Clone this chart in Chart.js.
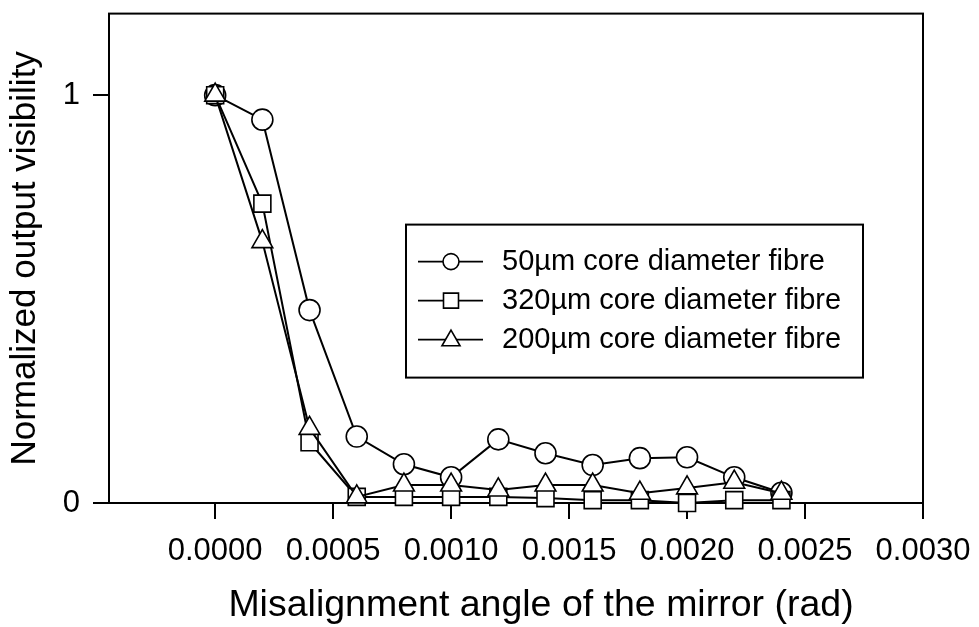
<!DOCTYPE html>
<html>
<head>
<meta charset="utf-8">
<script src="https://cdn.jsdelivr.net/npm/chart.js@4.4.0/dist/chart.umd.min.js"></script>
<style>
  html, body { margin: 0; padding: 0; background: #fff; }
  #wrap { width: 979px; height: 627px; }
</style>
</head>
<body>
<div id="wrap"><canvas id="visibility" width="979" height="627"></canvas></div>
<script>
// misalignment angle (rad)
const angles = [0, 0.0002, 0.0004, 0.0006, 0.0008, 0.0010, 0.0012, 0.0014, 0.0016, 0.0018, 0.0020, 0.0022, 0.0024];
// normalized visibility per fibre
const core50 = [1.0, 0.94, 0.473, 0.163, 0.095, 0.063, 0.156, 0.122, 0.093, 0.110, 0.112, 0.063, 0.025];
const core320 = [1.0, 0.734, 0.149, 0.015, 0.015, 0.015, 0.015, 0.012, 0.007, 0.007, 0.0, 0.007, 0.007];
const core200 = [1.0, 0.641, 0.183, 0.015, 0.044, 0.044, 0.032, 0.044, 0.044, 0.024, 0.037, 0.051, 0.024];
const seriesLabels = ["50µm core diameter fibre", "320µm core diameter fibre", "200µm core diameter fibre"];
const xTicks = [0, 0.0005, 0.0010, 0.0015, 0.0020, 0.0025, 0.0030];
const yTicks = [0, 1];
const xTitle = "Misalignment angle of the mirror (rad)";
const yTitle = "Normalized output visibility";

const FONT = "'Liberation Sans', Arial, Helvetica, sans-serif";

const toPoints = (vals) => angles.map((a, i) => ({ x: a, y: vals[i] }));

const makeSet = (label, vals, style, radius, order) => ({
  label: label,
  data: toPoints(vals),
  borderColor: "#000",
  borderWidth: 2,
  pointStyle: style,
  pointRadius: radius,
  pointBackgroundColor: "#fff",
  pointBorderColor: "#000",
  pointBorderWidth: 1.6,
  tension: 0,
  fill: false,
  clip: false,
  order: order,
});

// small legend marker, same shapes as chart points
function drawMarker(ctx, style, x, y, r) {
  ctx.beginPath();
  if (style === "circle") {
    ctx.arc(x, y, r, 0, Math.PI * 2);
  } else if (style === "rect") {
    ctx.rect(x - r, y - r, 2 * r, 2 * r);
  } else {
    ctx.moveTo(x, y - r);
    ctx.lineTo(x + r * 0.95, y + r * 0.65);
    ctx.lineTo(x - r * 0.95, y + r * 0.65);
    ctx.closePath();
  }
  ctx.fill();
  ctx.stroke();
}

const frame = {
  id: "frame",
  beforeDatasetsDraw(chart) {
    const { ctx, chartArea } = chart;
    ctx.save();
    ctx.strokeStyle = "#000";
    ctx.lineWidth = 2;
    ctx.strokeRect(chartArea.left, chartArea.top, chartArea.right - chartArea.left, chartArea.bottom - chartArea.top);
    ctx.restore();
  },
  // x title sits a bit right of the plot centre in the original
  afterDraw(chart) {
    const { ctx, chartArea } = chart;
    ctx.save();
    ctx.fillStyle = "#000";
    ctx.font = "37.5px " + FONT;
    ctx.textAlign = "center";
    ctx.textBaseline = "middle";
    ctx.fillText(xTitle, (chartArea.left + chartArea.right) / 2 + 25, chartArea.bottom + 103);
    ctx.restore();
  },
};

const boxLegend = {
  id: "boxLegend",
  afterDatasetsDraw(chart) {
    const { ctx, chartArea } = chart;
    const left = chartArea.left + 297;
    const top = chartArea.top + 211;
    const sizes = { circle: 8, rect: 7.5, triangle: 9.5 };
    ctx.save();
    ctx.fillStyle = "#fff";
    ctx.fillRect(left, top, 457, 153);
    ctx.strokeStyle = "#000";
    ctx.lineWidth = 2;
    ctx.strokeRect(left, top, 457, 153);
    chart.data.datasets.forEach((ds, i) => {
      const y = top + 37 + i * 39;
      ctx.lineWidth = 1.6;
      ctx.beginPath();
      ctx.moveTo(left + 12, y);
      ctx.lineTo(left + 77, y);
      ctx.stroke();
      ctx.fillStyle = "#fff";
      drawMarker(ctx, ds.pointStyle, left + 45, y, sizes[ds.pointStyle]);
      ctx.fillStyle = "#000";
      ctx.font = "29px " + FONT;
      ctx.textBaseline = "middle";
      ctx.fillText(ds.label, left + 96, y);
    });
    ctx.restore();
  },
};

const ctx = document.getElementById("visibility");
new Chart(ctx, {
  type: "line",
  data: {
    datasets: [
      makeSet(seriesLabels[0], core50, "circle", 10.5, 2),
      makeSet(seriesLabels[1], core320, "rect", 12, 1),
      makeSet(seriesLabels[2], core200, "triangle", 12, 0),
    ],
  },
  options: {
    responsive: false,
    animation: false,
    layout: { padding: { top: 11, right: 56, left: 0, bottom: 0 } },
    plugins: { legend: { display: false }, tooltip: { enabled: false } },
    scales: {
      x: {
        type: "linear",
        min: -0.00045,
        max: 0.003,
        afterBuildTicks: (s) => { s.ticks = xTicks.map((v) => ({ value: v })); },
        afterFit: (s) => {
          s.height = 124;
          s.paddingLeft = 0;
          s.paddingRight = 0;
        },
        ticks: {
          callback: (v) => v.toFixed(4),
          color: "#000",
          font: { family: FONT, size: 31 },
          padding: 14,
          maxRotation: 0,
          autoSkip: false,
        },
        grid: { drawOnChartArea: false, tickLength: 16, color: "#000", lineWidth: 2 },
        border: { color: "#000", width: 2 },
        title: { display: false },
      },
      y: {
        min: 0,
        max: 1.2,
        afterBuildTicks: (s) => { s.ticks = yTicks.map((v) => ({ value: v })); },
        afterFit: (s) => {
          s.width = 109;
          s.paddingTop = 0;
          s.paddingBottom = 0;
        },
        ticks: {
          callback: (v) => String(v),
          color: "#000",
          font: { family: FONT, size: 31 },
          padding: 13,
        },
        grid: { drawOnChartArea: false, tickLength: 16, color: "#000", lineWidth: 2 },
        border: { color: "#000", width: 2 },
        title: {
          display: true,
          text: yTitle,
          color: "#000",
          font: { family: FONT, size: 35 },
          padding: { top: 4, bottom: 0 },
        },
      },
    },
  },
  plugins: [frame, boxLegend],
});
</script>
</body>
</html>
